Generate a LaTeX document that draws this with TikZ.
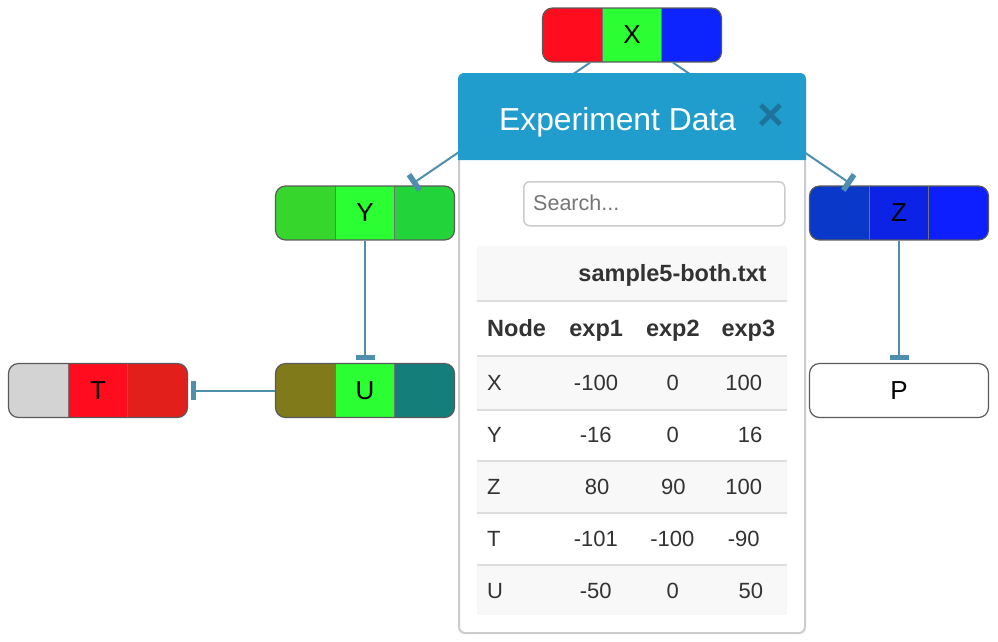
\documentclass[tikz,border=0pt]{standalone}
\usepackage{fontspec}
\setmainfont{Liberation Sans}
\usetikzlibrary{arrows.meta}
\definecolor{xred}{RGB}{255,13,31}
\definecolor{xgreen}{RGB}{43,255,51}
\definecolor{xblue}{RGB}{13,36,255}
\definecolor{yleft}{RGB}{55,214,44}
\definecolor{yright}{RGB}{34,212,58}
\definecolor{uleft}{RGB}{128,122,26}
\definecolor{uright}{RGB}{20,127,122}
\definecolor{tleft}{RGB}{211,211,211}
\definecolor{tright}{RGB}{226,31,26}
\definecolor{zleft}{RGB}{10,57,201}
\definecolor{zmid}{RGB}{12,35,230}
\definecolor{zright}{RGB}{13,31,255}
\definecolor{nodeborder}{RGB}{90,90,90}
\definecolor{edgecol}{RGB}{77,143,172}
\definecolor{headerblue}{RGB}{32,157,205}
\definecolor{closecol}{RGB}{30,115,155}
\definecolor{panelborder}{RGB}{204,204,204}
\definecolor{searchgray}{RGB}{117,117,117}
\definecolor{stripe}{RGB}{248,248,248}
\definecolor{rule}{RGB}{221,221,221}
\definecolor{tabtext}{RGB}{51,51,51}
\tikzset{
  gene/.style={draw=nodeborder, line width=1.2pt, rounded corners=10pt,
    minimum width=179pt, minimum height=54pt, inner sep=0pt,
    font=\fontsize{26}{30}\selectfont},
  divider/.style={draw=nodeborder!85, line width=0.8pt, sharp corners},
  tri/.style n args={3}{gene, path picture={
    \fill[#1, sharp corners] (path picture bounding box.south west) rectangle ([xshift=59.67pt]path picture bounding box.north west);
    \fill[#2, sharp corners] ([xshift=59.67pt]path picture bounding box.south west) rectangle ([xshift=119.33pt]path picture bounding box.north west);
    \fill[#3, sharp corners] ([xshift=119.33pt]path picture bounding box.south west) rectangle (path picture bounding box.north east);
    \draw[divider] ([xshift=59.67pt]path picture bounding box.south west) -- ([xshift=59.67pt]path picture bounding box.north west);
    \draw[divider] ([xshift=119.33pt]path picture bounding box.south west) -- ([xshift=119.33pt]path picture bounding box.north west);
  }},
  inhib/.style={draw=edgecol, line width=2pt, -{Rectangle[width=19pt,length=5.5pt]}, shorten >=2.5pt},
  th/.style={font=\bfseries\fontsize{23.5}{27}\selectfont, text=tabtext, inner sep=0pt, anchor=base},
  td/.style={font=\fontsize{22}{26}\selectfont, text=tabtext, inner sep=0pt, anchor=base},
}
\begin{document}
\begin{tikzpicture}[x=1pt,y=-1pt]
\useasboundingbox (0,0) rectangle (998,641);
% graph nodes
\node[tri={xred}{xgreen}{xblue}] (X) at (632,35) {X};
\node[tri={yleft}{xgreen}{yright}] (Y) at (365,213) {Y};
\node[tri={uleft}{xgreen}{uright}] (U) at (365,390.5) {U};
\node[tri={tleft}{xred}{tright}] (T) at (98,390.5) {T};
\node[tri={zleft}{zmid}{zright}] (Z) at (899,213) {Z};
\node[gene, fill=white] (P) at (899,390.5) {P};
% edges
\draw[inhib] ([xshift=-42pt]X.south) -- ([xshift=45pt]Y.north);
\draw[inhib] ([xshift=41pt]X.south) -- ([xshift=-46pt]Z.north);
\draw[inhib] (Y.south) -- (U.north);
\draw[inhib] (U.west) -- (T.east);
\draw[inhib] (Z.south) -- (P.north);
% dialog
\filldraw[fill=white, draw=panelborder, line width=2pt, rounded corners=6pt] (459,74) rectangle (805,633);
\fill[headerblue] (458,160) [rounded corners=6pt] -- (458,73) -- (806,73) [sharp corners] -- (806,160) -- cycle;
\node[font=\fontsize{31.8}{36}\selectfont, text=white, anchor=base west, inner sep=0pt] (title) at (499,130) {Experiment Data};
\node[font=\bfseries\fontsize{46}{46}\selectfont, text=closecol, inner sep=0pt] (close) at (770.5,117) {×};
% search box
\node[draw=panelborder, line width=1.5pt, rounded corners=6pt, minimum width=261pt, minimum height=44pt, anchor=north west, inner sep=0pt] (search) at (523,181) {};
\node[font=\fontsize{21.5}{25}\selectfont, text=searchgray, anchor=base west, inner sep=0pt] (searchtxt) at (533,210) {Search...};
% table stripes
\fill[stripe] (477,246) rectangle (787,300);
\fill[stripe] (477,357) rectangle (787,409);
\fill[stripe] (477,461) rectangle (787,513);
\fill[stripe] (477,565) rectangle (787,615);
\foreach \yy in {301,356,409.5,461,513,565}
  \draw[rule, line width=2pt] (477,\yy) -- (787,\yy);
% header
\node[th] (hfile) at (672.5,281.5) {sample5-both.txt};
\node[th, anchor=base west] (hnode) at (487,336.5) {Node};
\node[th] (hexp1) at (596.2,336.5) {exp1};
\node[th] (hexp2) at (672.8,336.5) {exp2};
\node[th] (hexp3) at (748.3,336.5) {exp3};
% rows
\node[td, anchor=base west] (rX) at (487,390.5) {X};
\node[td] (rX1) at (596,390.5) {-100};
\node[td] (rX2) at (672.8,390.5) {0};
\node[td] (rX3) at (743.8,390.5) {100};
\node[td, anchor=base west] (rY) at (487,442.5) {Y};
\node[td] (rY1) at (595.8,442.5) {-16};
\node[td] (rY2) at (672.8,442.5) {0};
\node[td] (rY3) at (750,442.5) {16};
\node[td, anchor=base west] (rZ) at (487,494.5) {Z};
\node[td] (rZ1) at (597,494.5) {80};
\node[td] (rZ2) at (673.3,494.5) {90};
\node[td] (rZ3) at (743.8,494.5) {100};
\node[td, anchor=base west] (rT) at (487,546.5) {T};
\node[td] (rT1) at (595.8,546.5) {-101};
\node[td] (rT2) at (672.3,546.5) {-100};
\node[td] (rT3) at (743.7,546.5) {-90};
\node[td, anchor=base west] (rU) at (487,598) {U};
\node[td] (rU1) at (595.8,598) {-50};
\node[td] (rU2) at (672.8,598) {0};
\node[td] (rU3) at (750.8,598) {50};
\end{tikzpicture}
\end{document}
